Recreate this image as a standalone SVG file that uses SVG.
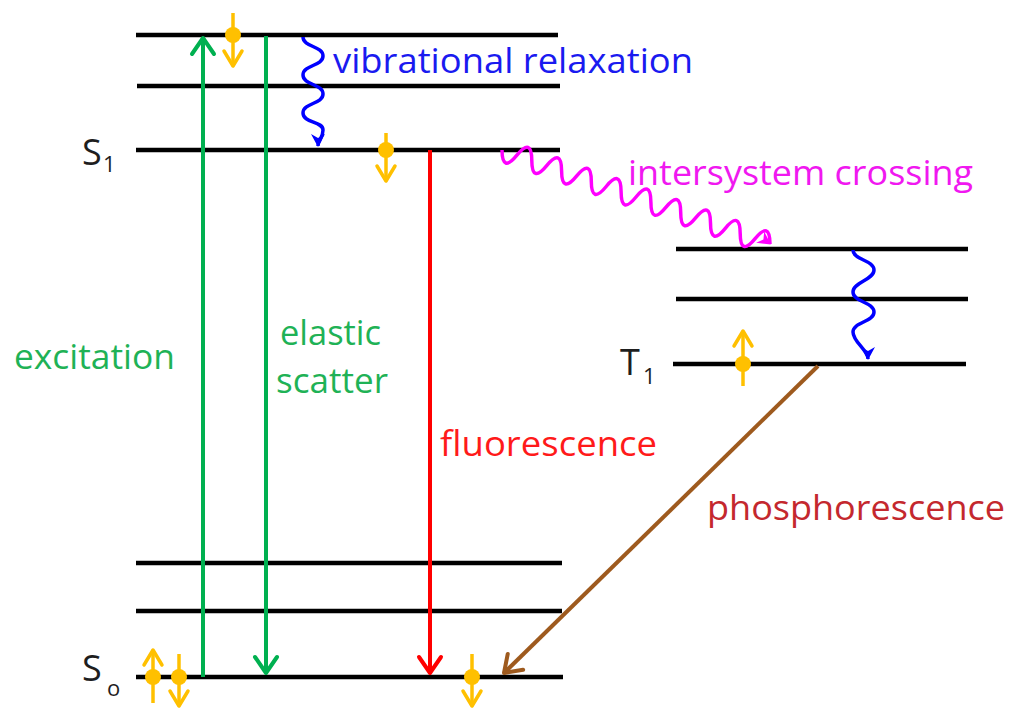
<svg xmlns="http://www.w3.org/2000/svg" width="1015" height="711" viewBox="0 0 1015 711">
<defs>
<style>
.lvl{stroke:#000;stroke-width:4.5;fill:none}
.lbl{font-family:"Open Sans","Liberation Sans",sans-serif;font-size:34px}
.st{font-family:"Open Sans","Liberation Sans",sans-serif;fill:#1e1e1e}
.spin{stroke:#FFC000;stroke-width:3.5;fill:none}
.dot{fill:#FFC000}
</style>
<marker id="mg" markerUnits="userSpaceOnUse" orient="auto" overflow="visible" refX="0" refY="0" markerWidth="20" markerHeight="24"><path d="M-16,-11 L0,0 L-16,11" fill="none" stroke="#00B050" stroke-width="4" stroke-linejoin="round" stroke-linecap="round"/></marker>
<marker id="mr" markerUnits="userSpaceOnUse" orient="auto" overflow="visible" refX="0" refY="0" markerWidth="20" markerHeight="24"><path d="M-16,-11 L0,0 L-16,11" fill="none" stroke="#FF0000" stroke-width="4" stroke-linejoin="round" stroke-linecap="round"/></marker>
<marker id="mb" markerUnits="userSpaceOnUse" orient="auto" overflow="visible" refX="0" refY="0" markerWidth="20" markerHeight="24"><path d="M-16,-11 L0,0 L-16,11" fill="none" stroke="#9E5A1E" stroke-width="4" stroke-linejoin="round" stroke-linecap="round"/></marker>
<marker id="mo" markerUnits="userSpaceOnUse" orient="auto" overflow="visible" refX="0" refY="0" markerWidth="20" markerHeight="20"><path d="M-15,-9 L0,0 L-15,9" fill="none" stroke="#FFC000" stroke-width="3.5" stroke-linejoin="round" stroke-linecap="round"/></marker>
<marker id="mblue" markerUnits="userSpaceOnUse" orient="auto" overflow="visible" refX="0" refY="0" markerWidth="16" markerHeight="16"><path d="M-12,-7 L1,0 L-12,7 L-8,0 Z" fill="#0000FF"/></marker>
<marker id="mmag" markerUnits="userSpaceOnUse" orient="35" overflow="visible" refX="0" refY="0" markerWidth="16" markerHeight="16"><path d="M-12,-7 L1,0 L-12,7 L-8,0 Z" fill="#FF00FF"/></marker>
</defs>
<rect width="1015" height="711" fill="#fff"/>

<g id="S1">
<line class="lvl" x1="136" y1="35" x2="558" y2="35"/>
<line class="lvl" x1="137" y1="86" x2="560" y2="86"/>
<line class="lvl" x1="136" y1="150" x2="560" y2="150"/>
<text class="st" x="82" y="165" font-size="36">S</text>
<text class="st" x="103" y="172" font-size="22">1</text>
</g>

<g id="T1">
<line class="lvl" x1="676" y1="249" x2="968" y2="249"/>
<line class="lvl" x1="676" y1="299" x2="968" y2="299"/>
<line class="lvl" x1="673" y1="364" x2="966" y2="364"/>
<text class="st" x="620" y="375" font-size="36">T</text>
<text class="st" x="643" y="384" font-size="22">1</text>
</g>

<g id="S0">
<line class="lvl" x1="136" y1="563" x2="562" y2="563"/>
<line class="lvl" x1="136" y1="611" x2="562" y2="611"/>
<line class="lvl" x1="136" y1="677" x2="563" y2="677"/>
<text class="st" x="82" y="681" font-size="36">S</text>
<text class="st" x="107" y="696" font-size="22">o</text>
</g>

<g id="connectors">
<line x1="203" y1="677" x2="203" y2="38" stroke="#00B050" stroke-width="4" marker-end="url(#mg)"/>
<line x1="266" y1="36" x2="266" y2="673" stroke="#00B050" stroke-width="4" marker-end="url(#mg)"/>
<line x1="430" y1="150" x2="430" y2="673" stroke="#FF0000" stroke-width="4" marker-end="url(#mr)"/>
<line x1="818" y1="366" x2="504" y2="673" stroke="#9E5A1E" stroke-width="4" marker-end="url(#mb)"/>
<path d="M303,37 C303,47 323,46 323,56 S303,65 303,75 S323,84 323,94 S303,103 303,113 S323,121 323,130 S318,140 318,146" fill="none" stroke="#0000FF" stroke-width="3.5" marker-end="url(#mblue)"/>
<path d="M853,250 C853,260 874,260 874,270 S853,282 853,292 S874,302 874,312 S853,322 853,332 S868,350 868,359" fill="none" stroke="#0000FF" stroke-width="3.5" marker-end="url(#mblue)"/>
<path d="M502,150 Q502.2,173.4 516.9,155.2 T531.8,160.4 T546.7,165.7 T561.6,170.9 T576.5,176.1 T591.3,181.3 T606.2,186.5 T621.1,191.8 T636,197 T650.9,202.2 T665.8,207.4 T680.7,212.6 T695.6,217.9 T710.5,223.1 T725.3,228.3 T740.2,233.5 T755.1,238.7 T770,244" fill="none" stroke="#FF00FF" stroke-width="3.5" marker-end="url(#mmag)"/>
</g>

<g id="spins">
<line class="spin" x1="233" y1="13" x2="233" y2="66" marker-end="url(#mo)"/><circle class="dot" cx="233" cy="35" r="8"/>
<line class="spin" x1="386" y1="133" x2="386" y2="181" marker-end="url(#mo)"/><circle class="dot" cx="386" cy="150" r="8"/>
<line class="spin" x1="743" y1="386" x2="743" y2="331" marker-end="url(#mo)"/><circle class="dot" cx="743" cy="364" r="8"/>
<line class="spin" x1="153" y1="703" x2="153" y2="650" marker-end="url(#mo)"/><circle class="dot" cx="153" cy="677" r="8"/>
<line class="spin" x1="179" y1="654" x2="179" y2="706" marker-end="url(#mo)"/><circle class="dot" cx="179" cy="677" r="8"/>
<line class="spin" x1="472" y1="654" x2="472" y2="706" marker-end="url(#mo)"/><circle class="dot" cx="472" cy="677" r="8"/>
</g>

<g id="labels">
<text class="lbl" x="333" y="73" fill="#1A1AF0" textLength="360" lengthAdjust="spacingAndGlyphs">vibrational relaxation</text>
<text class="lbl" x="628" y="185" fill="#F018F0" textLength="345" lengthAdjust="spacingAndGlyphs">intersystem crossing</text>
<text class="lbl" x="14" y="369" fill="#1FB256" textLength="161" lengthAdjust="spacingAndGlyphs">excitation</text>
<text class="lbl" x="280" y="345" fill="#1FB256" textLength="101" lengthAdjust="spacingAndGlyphs">elastic</text>
<text class="lbl" x="276" y="393" fill="#1FB256" textLength="112" lengthAdjust="spacingAndGlyphs">scatter</text>
<text class="lbl" x="440" y="456" fill="#FF1A1A" textLength="217" lengthAdjust="spacingAndGlyphs">fluorescence</text>
<text class="lbl" x="707" y="520" fill="#C4282E" textLength="298" lengthAdjust="spacingAndGlyphs">phosphorescence</text>
</g>
</svg>
